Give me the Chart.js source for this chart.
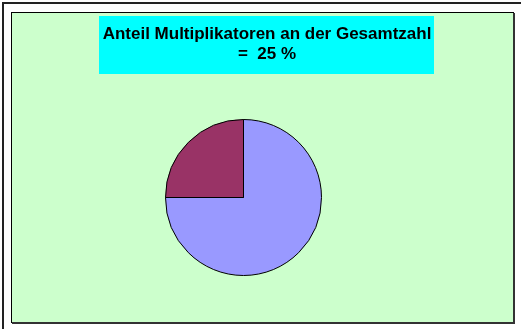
<!DOCTYPE html>
<html>
<head>
<meta charset="utf-8">
<script src="https://cdn.jsdelivr.net/npm/chart.js@4/dist/chart.umd.min.js"></script>
<style>
  html, body { margin: 0; padding: 0; background: #ffffff; }
  #wrap { width: 521px; height: 329px; position: relative; }
</style>
</head>
<body>
<div id="wrap"><canvas id="c" width="521" height="329"></canvas></div>
<script>
// Share of multipliers in the total count
const categories = ['Andere', 'Multiplikatoren'];
const shares = [75, 25];
const sliceColors = ['#9999FF', '#993366'];
const titleLines = ['Anteil Multiplikatoren an der Gesamtzahl', '=  25 %'];

// Frame, green plot background and the cyan title box with its text
const backdrop = {
  id: 'backdrop',
  beforeDraw(chart) {
    const ctx = chart.ctx;
    ctx.save();
    ctx.fillStyle = '#ffffff';
    ctx.fillRect(0, 0, chart.width, chart.height);

    // outer frame (top and left edges)
    ctx.strokeStyle = '#222222';
    ctx.lineWidth = 2;
    ctx.beginPath();
    ctx.moveTo(3, chart.height);
    ctx.lineTo(3, 3);
    ctx.lineTo(chart.width, 3);
    ctx.stroke();

    // green area
    ctx.fillStyle = '#CCFFCC';
    ctx.fillRect(11, 12, 503, 311);
    ctx.strokeStyle = '#000000';
    ctx.lineWidth = 1;
    ctx.strokeRect(11.5, 12.5, 502, 310);
    // shadow on right and bottom
    ctx.strokeStyle = '#333333';
    ctx.lineWidth = 2;
    ctx.beginPath();
    ctx.moveTo(514, 13);
    ctx.lineTo(514, 324);
    ctx.moveTo(12, 323);
    ctx.lineTo(515, 323);
    ctx.stroke();

    // title box
    ctx.fillStyle = '#00FFFF';
    ctx.fillRect(99, 16, 335, 58);
    ctx.fillStyle = '#000000';
    ctx.font = 'bold 17px "Liberation Sans", Arial, sans-serif';
    ctx.textAlign = 'center';
    ctx.textBaseline = 'alphabetic';
    ctx.fillText(titleLines[0], 267, 39);
    ctx.fillText(titleLines[1], 267, 59);
    ctx.restore();
  }
};

new Chart(document.getElementById('c'), {
  type: 'pie',
  data: {
    labels: categories,
    datasets: [{
      data: shares,
      backgroundColor: sliceColors,
      borderColor: '#000000',
      borderWidth: 1
    }]
  },
  options: {
    responsive: false,
    animation: false,
    layout: { padding: { left: 165, right: 199, top: 119, bottom: 53 } },
    plugins: {
      legend: { display: false },
      title: { display: false },
      tooltip: { enabled: false }
    }
  },
  plugins: [backdrop]
});
</script>
</body>
</html>
